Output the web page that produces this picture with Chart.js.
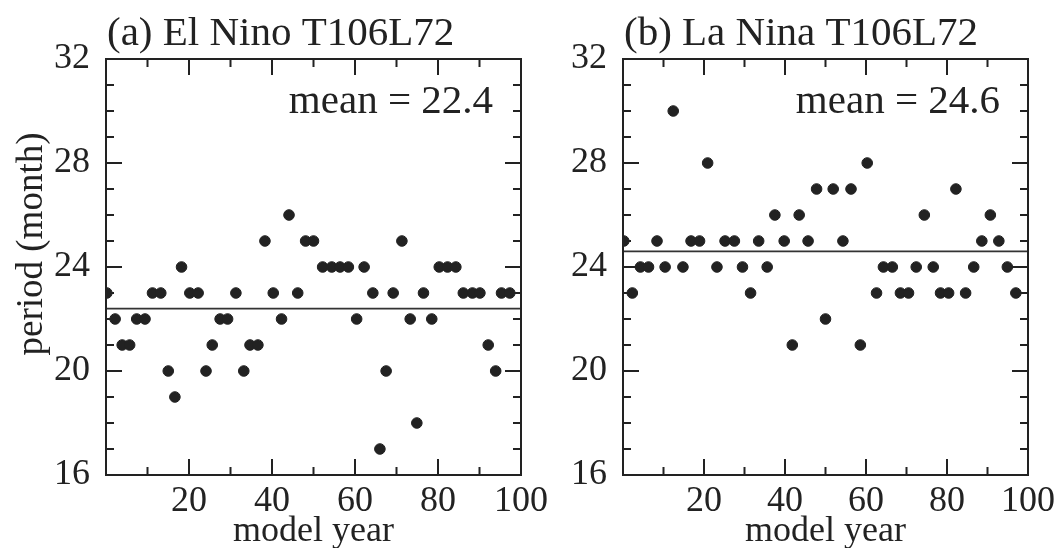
<!DOCTYPE html>
<html>
<head>
<meta charset="utf-8">
<script src="https://cdn.jsdelivr.net/npm/chart.js@4.4.1/dist/chart.umd.min.js"></script>
<style>
  body { margin: 0; background: #fff; width: 1060px; height: 548px; overflow: hidden; position: relative; }
  canvas { position: absolute; top: 0; }
  #left { left: 0; }
  #right { left: 517px; }
</style>
</head>
<body>
<canvas id="left" width="560" height="548"></canvas>
<canvas id="right" width="543" height="548"></canvas>
<script>
// model year of each cycle and its period (months)
const elNinoYear = [0.2,2.2,3.9,5.7,7.4,9.4,11.2,13.2,15.0,16.6,18.2,20.2,22.2,24.1,25.6,27.5,29.3,31.3,33.2,34.7,
  36.6,38.3,40.3,42.3,44.1,46.2,48.1,50.0,52.2,54.4,56.4,58.4,60.4,62.2,64.3,66.0,67.5,69.2,71.3,73.3,
  74.9,76.5,78.5,80.3,82.3,84.3,86.1,88.3,90.1,92.1,93.9,95.3,97.3];
const elNinoPeriod = [23,22,21,21,22,22,23,23,20,19,24,23,23,20,21,22,22,23,20,21,
  21,25,23,22,26,23,25,25,24,24,24,24,22,24,23,17,20,23,25,22,
  18,23,22,24,24,24,23,23,23,21,20,23,23];
const elNinoMean = 22.4;

const laNinaYear = [0.2,2.3,4.3,6.3,8.4,10.4,12.4,14.8,16.8,18.9,20.9,23.2,25.2,27.5,29.5,31.5,33.5,35.6,37.5,39.8,
  41.8,43.5,45.7,47.8,50.0,51.9,54.3,56.3,58.6,60.3,62.6,64.3,66.5,68.5,70.5,72.4,74.4,76.6,78.4,80.4,
  82.2,84.6,86.6,88.6,90.7,92.8,94.9,97.0];
const laNinaPeriod = [25,23,24,24,25,24,30,24,25,25,28,24,25,25,24,23,25,24,26,25,
  21,26,25,27,22,27,25,27,21,28,23,24,24,23,23,24,26,24,23,23,
  27,23,24,25,26,25,24,23];
const laNinaMean = 24.6;

const yTicks = [16, 20, 24, 28, 32];
const xTicks = [20, 40, 60, 80, 100];

const FONT = "'Liberation Serif', 'Times New Roman', serif";
const INK = '#222';

// frame, inward ticks, panel title and mean label
const framePlugin = {
  id: 'frame',
  afterDraw(chart, args, opts) {
    const {ctx, chartArea: a, scales: {x, y}} = chart;
    ctx.save();
    ctx.strokeStyle = INK;
    ctx.lineWidth = 2;
    ctx.strokeRect(a.left, a.top, a.right - a.left, a.bottom - a.top);
    ctx.beginPath();
    for (let v = 17; v < 32; v++) {
      const py = y.getPixelForValue(v);
      const len = v % 4 === 0 ? 16 : 8;
      ctx.moveTo(a.left, py); ctx.lineTo(a.left + len, py);
      ctx.moveTo(a.right, py); ctx.lineTo(a.right - len, py);
    }
    for (let v = 10; v < 100; v += 10) {
      const px = x.getPixelForValue(v);
      const len = v % 20 === 0 ? 16 : 8;
      ctx.moveTo(px, a.bottom); ctx.lineTo(px, a.bottom - len);
      ctx.moveTo(px, a.top); ctx.lineTo(px, a.top + len);
    }
    ctx.stroke();

    ctx.fillStyle = INK;
    ctx.font = '41px ' + FONT;
    ctx.textAlign = 'left';
    ctx.textBaseline = 'alphabetic';
    ctx.fillText(opts.title, a.left + 1, 45);
    ctx.font = '41px ' + FONT;
    ctx.textAlign = 'right';
    ctx.fillText(opts.mean, a.right - 28, 113);

    if (opts.yTitle) {
      ctx.font = '37px ' + FONT;
      ctx.textAlign = 'center';
      ctx.textBaseline = 'middle';
      ctx.translate(32, 244);
      ctx.rotate(-Math.PI / 2);
      ctx.fillText(opts.yTitle, 0, 0);
    }
    ctx.restore();
  }
};

function makeChart(id, years, periods, mean, title, yTitle) {
  const points = years.map((yr, i) => ({x: yr, y: periods[i]}));
  return new Chart(document.getElementById(id), {
    type: 'scatter',
    data: {
      datasets: [{
        data: points,
        backgroundColor: INK,
        borderColor: INK,
        pointRadius: 5.3,
        pointHoverRadius: 5.3
      }, {
        type: 'line',
        data: [{x: 0, y: mean}, {x: 100, y: mean}],
        borderColor: '#333',
        borderWidth: 1.6,
        pointRadius: 0
      }]
    },
    options: {
      responsive: false,
      animation: false,
      events: [],
      layout: {padding: {left: 0, top: 59, right: id === 'left' ? 39 : 22, bottom: 0}},
      plugins: {
        legend: {display: false},
        tooltip: {enabled: false},
        frame: {title: title, mean: 'mean = ' + mean.toFixed(1), yTitle: yTitle}
      },
      scales: {
        x: {
          type: 'linear', min: 0, max: 100,
          grid: {display: false, drawTicks: false},
          border: {display: false},
          afterBuildTicks: s => { s.ticks = xTicks.map(v => ({value: v})); },
          afterFit: s => { s.height = 73; },
          ticks: {
            color: INK, padding: 5, maxRotation: 0, autoSkip: false,
            font: {family: FONT, size: 36}
          },
          title: {
            display: true, text: 'model year', color: INK,
            font: {family: FONT, size: 36}, padding: {top: 0, bottom: -5}
          }
        },
        y: {
          type: 'linear', min: 16, max: 32,
          grid: {display: false, drawTicks: false},
          border: {display: false},
          afterBuildTicks: s => { s.ticks = yTicks.map(v => ({value: v})); },
          afterFit: s => { s.width = 106; },
          ticks: {
            color: INK, padding: 16, autoSkip: false,
            font: {family: FONT, size: 36}
          }
        }
      }
    },
    plugins: [framePlugin]
  });
}

makeChart('left', elNinoYear, elNinoPeriod, elNinoMean, '(a) El Nino T106L72', 'period (month)');
makeChart('right', laNinaYear, laNinaPeriod, laNinaMean, '(b) La Nina T106L72', null);
</script>
</body>
</html>
